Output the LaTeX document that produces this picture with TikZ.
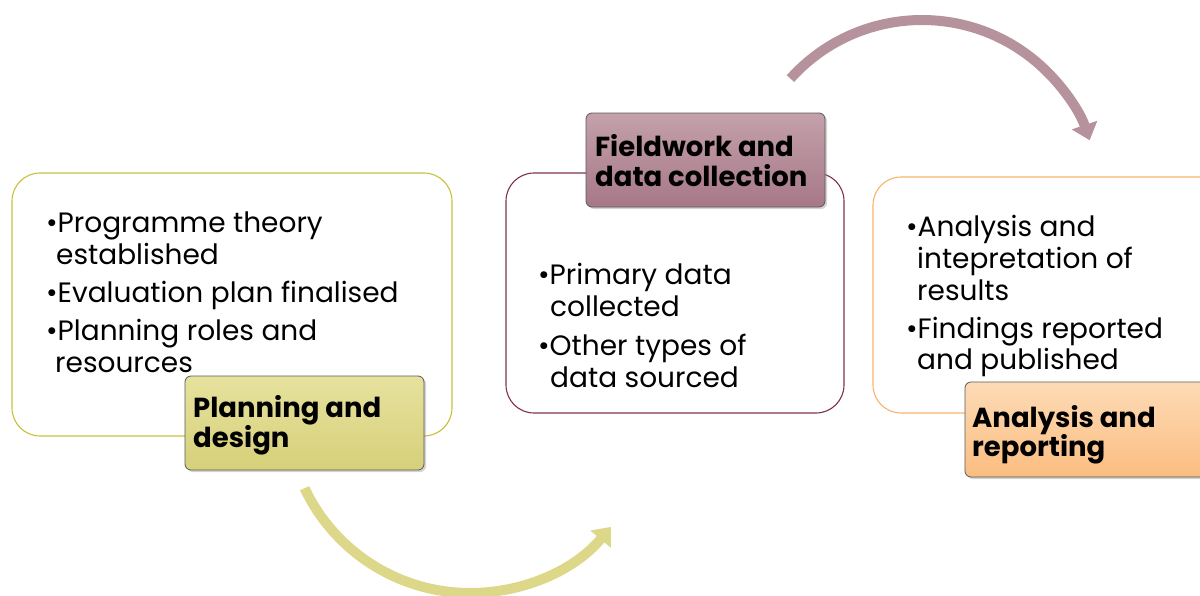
\documentclass[tikz,border=0pt]{standalone}
\usepackage{fontspec}
\setmainfont{Poppins}
\usetikzlibrary{arrows.meta,shadows}
\definecolor{olivedge}{HTML}{C8C03A}
\definecolor{maroonedge}{HTML}{7E3050}
\definecolor{orangeedge}{HTML}{F7B46A}
\definecolor{yellowtop}{HTML}{E6E29E}
\definecolor{yellowbot}{HTML}{D6D07A}
\definecolor{mauvetop}{HTML}{C3A1AB}
\definecolor{mauvebot}{HTML}{A77887}
\definecolor{peachtop}{HTML}{FDDBB6}
\definecolor{peachbot}{HTML}{FBBD80}
\definecolor{yellowarc}{HTML}{DDD889}
\definecolor{mauvearc}{HTML}{B6929C}
\tikzset{
  x=1pt, y=-1pt,
  panel/.style={draw=#1, line width=1.1pt, rounded corners=28pt},
  stagebox/.style={draw=black!65, line width=0.8pt, rounded corners=6pt,
    drop shadow={opacity=0.35, shadow xshift=2pt, shadow yshift=-2pt}},
  bodytext/.style={anchor=base west, inner sep=0pt,
    font=\fontsize{28}{32}\selectfont},
  titletext/.style={anchor=base west, inner sep=0pt,
    font=\fontsize{27.5}{30}\selectfont\bfseries},
  cyclearrow/.style={line width=10pt, -{Triangle[width=26pt,length=16pt]}}
}
\begin{document}
\begin{tikzpicture}
\useasboundingbox (0,0) rectangle (1200,595);
\clip (0,0) rectangle (1200,595);
% outer panels
\draw[panel=olivedge] (12,173) rectangle (452,436);
\draw[panel=maroonedge] (506,173) rectangle (844,413);
\draw[panel=orangeedge] (873,177) rectangle (1240,413);
% bullet lists
\node[bodytext] (p1) at (46,232) {•Programme theory};
\node[bodytext] (p1b) at (56,264) {established};
\node[bodytext] (p2) at (46,302) {•Evaluation plan finalised};
\node[bodytext] (p3) at (46,340) {•Planning roles and};
\node[bodytext] (p3b) at (55,372) {resources};
\node[bodytext] (f1) at (538,284) {•Primary data};
\node[bodytext] (f1b) at (550,316) {collected};
\node[bodytext] (f2) at (538,355) {•Other types of};
\node[bodytext] (f2b) at (550,387) {data sourced};
\node[bodytext] (a1) at (906,236) {•Analysis and};
\node[bodytext] (a1b) at (917,268) {intepretation of};
\node[bodytext] (a1c) at (917,300) {results};
\node[bodytext] (a2) at (906,338) {•Findings reported};
\node[bodytext] (a2b) at (917,369) {and published};
% stage labels
\draw[stagebox, top color=yellowtop, bottom color=yellowbot] (185,376) rectangle (424,470);
\node[titletext] (plan1) at (193,417) {Planning and};
\node[titletext] (plan2) at (193,447) {design};
\draw[stagebox, top color=mauvetop, bottom color=mauvebot] (586,113) rectangle (825,207);
\node[titletext] (field1) at (595,156) {Fieldwork and};
\node[titletext] (field2) at (595,186) {data collection};
\draw[stagebox, top color=peachtop, bottom color=peachbot] (965,382) rectangle (1215,477);
\node[titletext] (rep1) at (972,427) {Analysis and};
\node[titletext] (rep2) at (972,456) {reporting};
% cycle arrows
\coordinate (lowc) at (470,410);
\coordinate (highc) at (922,197);
\draw[cyclearrow, yellowarc] ([shift={(154.7:183)}]lowc) arc[start angle=154.7, end angle=39.7, radius=183];
\draw[cyclearrow, mauvearc] ([shift={(-138:177)}]highc) arc[start angle=-138, end angle=-18.7, radius=177];
\end{tikzpicture}
\end{document}
